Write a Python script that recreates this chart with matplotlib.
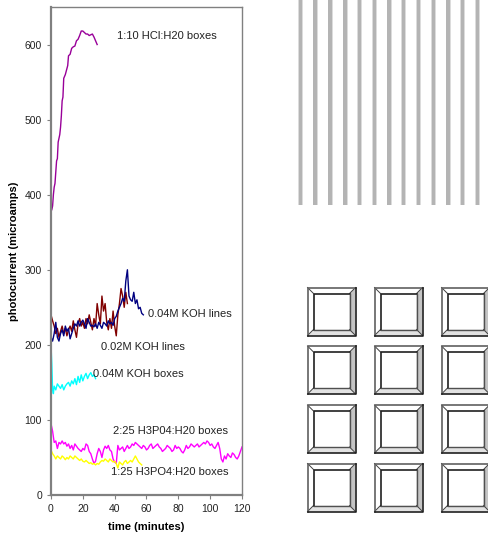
import matplotlib
matplotlib.use("Agg")
import matplotlib.pyplot as plt
from matplotlib.patches import Polygon, Rectangle
import numpy as np

plt.rcParams['font.family'] = ['Liberation Sans', 'DejaVu Sans']

# ---- data (time in minutes, photocurrent in microamps)
hcl_t = [0.5, 1, 1.5, 2, 2.5, 3, 3.5, 4, 4.5, 5, 5.5, 6, 6.5, 7, 7.5, 8, 9, 10,
         10.5, 11, 12, 13, 14, 15, 16, 17, 18, 19, 20, 21, 22, 23, 24, 25, 26,
         27, 28, 29]
hcl_v = [380, 385, 400, 410, 415, 430, 445, 448, 470, 475, 480, 490, 505, 525,
         530, 555, 560, 568, 572, 585, 587, 595, 597, 598, 605, 607, 612, 618,
         618, 616, 614, 614, 612, 613, 614, 610, 605, 600]

koh04l_t = list(range(0, 59))
koh04l_v = [210, 205, 215, 230, 210, 205, 215, 220, 212, 225, 218, 222, 208,
            215, 222, 228, 225, 232, 225, 230, 233, 228, 222, 235, 230, 225,
            226, 224, 228, 222, 230, 226, 222, 230, 228, 225, 232, 228, 230,
            226, 235, 238, 245, 250, 255, 262, 258, 285, 300, 265, 260, 258,
            270, 255, 260, 248, 250, 242, 240]

koh02l_t = list(range(0, 49))
koh02l_v = [240, 232, 225, 215, 222, 210, 218, 225, 215, 222, 212, 220, 225,
            218, 232, 220, 210, 228, 235, 225, 230, 222, 235, 228, 240, 230,
            220, 235, 225, 255, 240, 228, 265, 245, 255, 230, 220, 235, 222,
            245, 225, 212, 240, 255, 275, 265, 250, 270, 255]

koh04b_t = [0, 0.5, 1, 1.5, 2, 3, 4, 5, 6, 7, 8, 9, 10, 11, 12, 13, 14, 15, 16,
            17, 18, 19, 20, 21, 22, 23, 24, 25, 26, 27, 28]
koh04b_v = [200, 175, 140, 135, 145, 140, 148, 145, 142, 147, 140, 145, 148,
            150, 145, 152, 148, 155, 147, 158, 150, 160, 152, 158, 162, 155,
            160, 163, 158, 160, 155]

h3po4_225_t = list(range(0, 121))
h3po4_225_v = [95, 85, 70, 72, 62, 70, 68, 72, 68, 70, 65, 68, 62, 66, 60, 68,
               65, 62, 60, 58, 62, 60, 68, 66, 58, 55, 48, 42, 45, 55, 62, 58,
               50, 60, 65, 62, 66, 60, 58, 48, 44, 42, 66, 60, 62, 64, 58, 62,
               66, 62, 64, 68, 66, 70, 68, 66, 64, 62, 66, 64, 60, 62, 66, 68,
               62, 64, 66, 68, 64, 62, 58, 60, 62, 66, 64, 62, 58, 60, 66, 62,
               64, 62, 58, 56, 60, 66, 62, 64, 68, 66, 64, 66, 68, 64, 66, 68,
               70, 68, 72, 70, 66, 68, 64, 62, 66, 70, 62, 48, 44, 52, 48, 55,
               52, 50, 56, 54, 50, 48, 52, 58, 64]

h3po4_125_t = list(range(0, 58))
h3po4_125_v = [60, 55, 52, 48, 52, 50, 48, 52, 50, 47, 50, 48, 52, 50, 48, 52,
               50, 48, 46, 48, 45, 44, 46, 44, 42, 43, 41, 42, 40, 42, 41, 44,
               46, 45, 48, 46, 44, 48, 46, 44, 45, 42, 36, 44, 42, 40, 44, 46,
               42, 44, 46, 44, 48, 52, 48, 44, 42, 40]

series = [
    (hcl_t, hcl_v, '#990099'),
    (koh02l_t, koh02l_v, '#800000'),
    (koh04l_t, koh04l_v, '#000080'),
    (koh04b_t, koh04b_v, '#00FFFF'),
    (h3po4_225_t, h3po4_225_v, '#FF00FF'),
    (h3po4_125_t, h3po4_125_v, '#FFFF00'),
]

labels = ['1:10 HCl:H20 boxes', '0.04M KOH lines', '0.02M KOH lines',
          '0.04M KOH boxes', '2:25 H3P04:H20 boxes', '1:25 H3PO4:H20 boxes']
label_t = [41.5, 61, 31.3, 26.5, 38.8, 37.7]
label_v = [611, 241, 197, 161, 85, 31]

W, H = 489, 542
fig = plt.figure(figsize=(W / 100, H / 100), dpi=100)

# ---- chart
ax = fig.add_axes([51 / W, (H - 495) / H, 191 / W, 488 / H])
for t, v, c in series:
    ax.plot(t, v, color=c, lw=1.0)
for s, t, v in zip(labels, label_t, label_v):
    ax.text(t, v, s, fontsize=8, va='center', ha='left', color='#222222')

ax.set_xlim(0, 120)
ax.set_ylim(0, 650)
ax.set_xticks(range(0, 121, 20))
ax.set_yticks(range(0, 601, 100))
ax.tick_params(labelsize=7.5, length=3, color='#808080', colors='#222222')
for sp in ax.spines.values():
    sp.set_color('#808080')
    sp.set_linewidth(1.0)
ax.spines['left'].set_linewidth(1.6)
ax.spines['bottom'].set_linewidth(1.6)
ax.set_xlabel('time (minutes)', fontsize=8, fontweight='bold', labelpad=6)
ax.set_ylabel('photocurrent (microamps)', fontsize=8, fontweight='bold', labelpad=4)

# ---- pattern drawings on the right, in pixel space
pax = fig.add_axes([0, 0, 1, 1], zorder=-1)
pax.set_xlim(0, W)
pax.set_ylim(H, 0)
pax.axis('off')

stripe_x = [300.7, 315, 330, 345, 359.3, 374.3, 389, 403.7, 418.7, 433.3,
            448, 462.7, 477.7]
for x in stripe_x:
    pax.add_patch(Rectangle((x - 2.5, 0), 5, 205, fc='#dcdcdc', ec='none'))
    pax.add_patch(Rectangle((x - 1.7, 0), 3.4, 205, fc='#b4b4b4', ec='none'))

box_x = [307.5, 374.5, 441.5]
box_y = [287.5, 346, 405, 463.5]
size, inset = 48, 6
for bx in box_x:
    for by in box_y:
        x0, y0, x1, y1 = bx, by, bx + size, by + size
        i0, j0, i1, j1 = x0 + inset, y0 + inset, x1 - inset, y1 - inset
        # bevels
        pax.add_patch(Polygon([(x0, y0), (x1, y0), (i1, j0), (i0, j0)], fc='white', ec='none'))
        pax.add_patch(Polygon([(x0, y0), (i0, j0), (i0, j1), (x0, y1)], fc='white', ec='none'))
        pax.add_patch(Polygon([(x1, y0), (x1, y1), (i1, j1), (i1, j0)], fc='#c4c4c4', ec='none'))
        pax.add_patch(Polygon([(x0, y1), (i0, j1), (i1, j1), (x1, y1)], fc='#e2e2e2', ec='none'))
        # bevel diagonals
        for (a, b), (c, d) in [((x0, y0), (i0, j0)), ((x1, y0), (i1, j0)),
                               ((x0, y1), (i0, j1)), ((x1, y1), (i1, j1))]:
            pax.plot([a, c], [b, d], color='#404040', lw=0.7)
        # outer frame
        pax.plot([x0, x0, x1], [y1, y0, y0], color='#606060', lw=1.2)
        pax.plot([x1, x1, x0], [y0, y1, y1], color='#202020', lw=1.2)
        # inner frame
        pax.plot([i0, i0, i1], [j1, j0, j0], color='#202020', lw=1.2)
        pax.plot([i1, i1, i0], [j0, j1, j1], color='#505050', lw=1.0)

fig.savefig('out.png', dpi=100)
